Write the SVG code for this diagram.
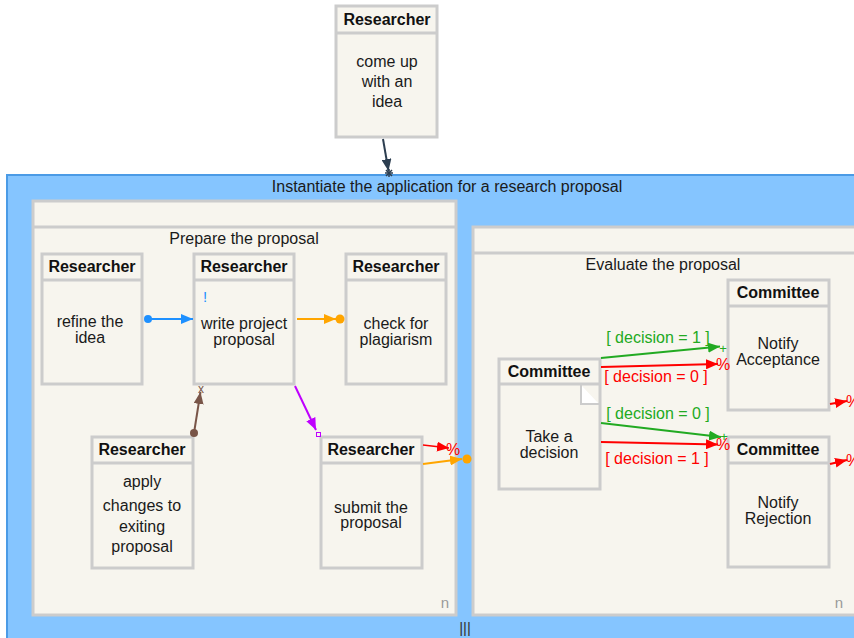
<svg xmlns="http://www.w3.org/2000/svg" width="854" height="638" viewBox="0 0 854 638">
<style>
text{font-family:"Liberation Sans",Arial,sans-serif;font-size:16px;fill:#1a1a1a;text-anchor:middle}
.hd{font-weight:bold;fill:#111}
.box{fill:#f7f5ee;stroke:#cccccc;stroke-width:3}
.panel{fill:#f7f5ee;stroke:#cccccc;stroke-width:3}
.n{fill:#9a9a9a;font-size:15px}
.e{fill:none;stroke-width:2}
.g{fill:#22aa22}
.r{fill:#ff0000}
</style>
<defs>
<marker id="aDark" markerUnits="userSpaceOnUse" viewBox="0 0 12 10" refX="12" refY="5" markerWidth="12" markerHeight="10" orient="auto"><path d="M0,0L12,5L0,10Z" fill="#2c3e50"/></marker>
<marker id="aBlue" markerUnits="userSpaceOnUse" viewBox="0 0 12 10" refX="12" refY="5" markerWidth="12" markerHeight="10" orient="auto"><path d="M0,0L12,5L0,10Z" fill="#1e90ff"/></marker>
<marker id="aOrange" markerUnits="userSpaceOnUse" viewBox="0 0 12 10" refX="12" refY="5" markerWidth="12" markerHeight="10" orient="auto"><path d="M0,0L12,5L0,10Z" fill="#ffa500"/></marker>
<marker id="aPurple" markerUnits="userSpaceOnUse" viewBox="0 0 12 10" refX="12" refY="5" markerWidth="12" markerHeight="10" orient="auto"><path d="M0,0L12,5L0,10Z" fill="#bf00ff"/></marker>
<marker id="aBrown" markerUnits="userSpaceOnUse" viewBox="0 0 12 10" refX="12" refY="5" markerWidth="12" markerHeight="10" orient="auto"><path d="M0,0L12,5L0,10Z" fill="#795548"/></marker>
<marker id="aRed" markerUnits="userSpaceOnUse" viewBox="0 0 12 10" refX="12" refY="5" markerWidth="12" markerHeight="10" orient="auto"><path d="M0,0L12,5L0,10Z" fill="#ff0000"/></marker>
<marker id="aGreen" markerUnits="userSpaceOnUse" viewBox="0 0 12 10" refX="12" refY="5" markerWidth="12" markerHeight="10" orient="auto"><path d="M0,0L12,5L0,10Z" fill="#22aa22"/></marker>
</defs>
<rect width="854" height="638" fill="#ffffff"/>

<g id="container-instantiate">
<rect x="7" y="175" width="862" height="470" fill="#85c5ff" stroke="#4b9be6" stroke-width="2"/>
<text x="447" y="192">Instantiate the application for a research proposal</text>
<text x="465" y="633" style="fill:#333;font-size:15px">|||</text>
</g>

<g id="panel-prepare">
<rect class="panel" x="33" y="201" width="423" height="414"/>
<line x1="33" y1="227" x2="456" y2="227" stroke="#cccccc" stroke-width="3"/>
<text x="244" y="244">Prepare the proposal</text>
<text class="n" x="445" y="608">n</text>
</g>

<g id="panel-evaluate">
<rect class="panel" x="473" y="227" width="400" height="388"/>
<line x1="473" y1="253" x2="873" y2="253" stroke="#cccccc" stroke-width="3"/>
<text x="663" y="270">Evaluate the proposal</text>
<text class="n" x="839" y="608">n</text>
</g>

<g id="node-come-up">
<rect class="box" x="336" y="6" width="101" height="131"/>
<line x1="336" y1="33" x2="437" y2="33" stroke="#cccccc" stroke-width="3"/>
<text class="hd" x="387" y="25">Researcher</text>
<text x="387" y="67">come up</text>
<text x="387" y="87">with an</text>
<text x="387" y="107">idea</text>
</g>

<g id="node-refine">
<rect class="box" x="42" y="254" width="100" height="130"/>
<line x1="42" y1="280" x2="142" y2="280" stroke="#cccccc" stroke-width="3"/>
<text class="hd" x="92" y="272">Researcher</text>
<text x="90" y="327">refine the</text>
<text x="90" y="343">idea</text>
</g>

<g id="node-write">
<rect class="box" x="194" y="254" width="100" height="130"/>
<line x1="194" y1="280" x2="294" y2="280" stroke="#cccccc" stroke-width="3"/>
<text class="hd" x="244" y="272">Researcher</text>
<text x="205" y="302" style="fill:#1e90ff;font-size:15px">!</text>
<text x="244" y="329">write project</text>
<text x="244" y="345">proposal</text>
</g>

<g id="node-check">
<rect class="box" x="346" y="254" width="100" height="130"/>
<line x1="346" y1="280" x2="446" y2="280" stroke="#cccccc" stroke-width="3"/>
<text class="hd" x="396" y="272">Researcher</text>
<text x="396" y="329">check for</text>
<text x="396" y="345">plagiarism</text>
</g>

<g id="node-apply">
<rect class="box" x="92" y="437" width="101" height="131"/>
<line x1="92" y1="463" x2="193" y2="463" stroke="#cccccc" stroke-width="3"/>
<text class="hd" x="142" y="455">Researcher</text>
<text x="142" y="487">apply</text>
<text x="142" y="511">changes to</text>
<text x="142" y="532">exiting</text>
<text x="142" y="552">proposal</text>
</g>

<g id="node-submit">
<rect class="box" x="321" y="437" width="101" height="131"/>
<line x1="321" y1="463" x2="422" y2="463" stroke="#cccccc" stroke-width="3"/>
<text class="hd" x="371" y="455">Researcher</text>
<text x="371" y="513">submit the</text>
<text x="371" y="528">proposal</text>
</g>

<g id="node-decision">
<rect class="box" x="499" y="359" width="101" height="130"/>
<line x1="499" y1="384" x2="600" y2="384" stroke="#cccccc" stroke-width="3"/>
<path d="M581,385L599,404L581,404Z" fill="#ffffff"/>
<path d="M581,385L581,404L599,404" fill="none" stroke="#cccccc" stroke-width="2"/>
<text class="hd" x="549" y="377">Committee</text>
<text x="549" y="442">Take a</text>
<text x="549" y="458">decision</text>
</g>

<g id="node-accept">
<rect class="box" x="728" y="280" width="101" height="130"/>
<line x1="728" y1="306" x2="829" y2="306" stroke="#cccccc" stroke-width="3"/>
<text class="hd" x="778" y="298">Committee</text>
<text x="778" y="349">Notify</text>
<text x="778" y="365">Acceptance</text>
</g>

<g id="node-reject">
<rect class="box" x="728" y="437" width="101" height="130"/>
<line x1="728" y1="463" x2="829" y2="463" stroke="#cccccc" stroke-width="3"/>
<text class="hd" x="778" y="455">Committee</text>
<text x="778" y="508">Notify</text>
<text x="778" y="524">Rejection</text>
</g>

<g id="connectors">
<!-- top -->
<line class="e" x1="383" y1="139" x2="388.5" y2="171" stroke="#2c3e50" marker-end="url(#aDark)"/>
<g stroke="#2c3e50" stroke-width="1.5">
<line x1="385" y1="173" x2="393" y2="173"/><line x1="389" y1="169" x2="389" y2="177"/>
<line x1="386" y1="170" x2="392" y2="176"/><line x1="392" y1="170" x2="386" y2="176"/>
</g>
<!-- blue -->
<circle cx="148" cy="319" r="4" fill="#1e90ff"/>
<line class="e" x1="148" y1="319" x2="193" y2="319" stroke="#1e90ff" marker-end="url(#aBlue)"/>
<!-- orange -->
<line class="e" x1="297" y1="319" x2="336" y2="319" stroke="#ffa500" marker-end="url(#aOrange)"/>
<circle cx="340" cy="319" r="4.5" fill="#ffa500"/>
<!-- purple -->
<line class="e" x1="295" y1="386" x2="316" y2="430" stroke="#bf00ff" marker-end="url(#aPurple)"/>
<rect x="316.5" y="432.5" width="4" height="4" fill="none" stroke="#bf00ff" stroke-width="1"/>
<!-- brown -->
<circle cx="194" cy="433" r="4" fill="#795548"/>
<line class="e" x1="194" y1="433" x2="200.5" y2="392" stroke="#795548" marker-end="url(#aBrown)"/>
<text x="201" y="393" style="fill:#795548;font-size:12px">x</text>
<!-- red from submit -->
<line x1="423" y1="445" x2="449" y2="448" stroke="#ff0000" stroke-width="1.5" marker-end="url(#aRed)"/>
<text x="453" y="455" class="r">%</text>
<!-- orange from submit -->
<line class="e" x1="423" y1="464" x2="462" y2="459" stroke="#ffa500" marker-end="url(#aOrange)"/>
<circle cx="467" cy="459" r="4.5" fill="#ffa500"/>
<!-- decision edges -->
<line class="e" x1="601" y1="358" x2="720" y2="346.5" stroke="#22aa22" marker-end="url(#aGreen)"/>
<text x="723" y="353" class="g" style="font-size:13px">+</text>
<text x="658" y="343" class="g">[ decision = 1 ]</text>
<line class="e" x1="601" y1="367" x2="718" y2="364" stroke="#ff0000" marker-end="url(#aRed)"/>
<text x="723" y="370" class="r">%</text>
<text x="656" y="382" class="r">[ decision = 0 ]</text>
<line class="e" x1="601" y1="423" x2="721" y2="437" stroke="#22aa22" marker-end="url(#aGreen)"/>
<text x="724" y="441" class="g" style="font-size:13px">+</text>
<text x="658" y="419" class="g">[ decision = 0 ]</text>
<line class="e" x1="601" y1="442" x2="718" y2="444.5" stroke="#ff0000" marker-end="url(#aRed)"/>
<text x="723" y="450" class="r">%</text>
<text x="657" y="464" class="r">[ decision = 1 ]</text>
<!-- out of right nodes -->
<line class="e" x1="830" y1="404" x2="847" y2="401" stroke="#ff0000" marker-end="url(#aRed)"/>
<text x="853" y="407" class="r">%</text>
<line class="e" x1="830" y1="464" x2="847" y2="460" stroke="#ff0000" marker-end="url(#aRed)"/>
<text x="853" y="466" class="r">%</text>
</g>
</svg>
